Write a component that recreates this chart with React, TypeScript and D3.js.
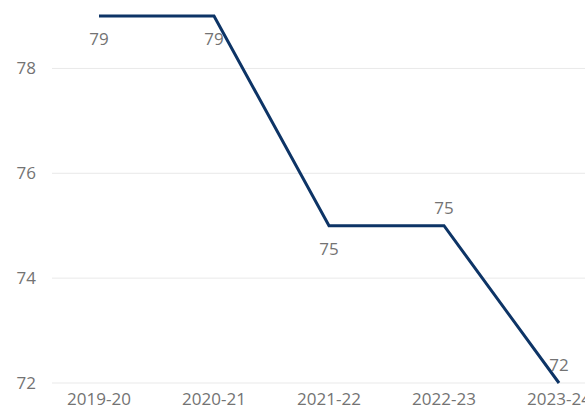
import React from "react";
import * as d3 from "d3";

const years = ["2019-20", "2020-21", "2021-22", "2022-23", "2023-24"];
const values = [79, 79, 75, 75, 72];
const yTicks = [72, 74, 76, 78];
const labelSide = ["below", "below", "below", "above", "above"];

const W = 585;
const H = 409;
const FONT = "'Open Sans', 'Noto Sans', sans-serif";
const TEXT = "#737373";
const FS = 17;

export default function App() {
  const x = d3.scalePoint<string>().domain(years).range([99, 559]);
  const y = d3.scaleLinear().domain([72, 79]).range([383, 16]);
  const line = d3
    .line<number>()
    .x((_, i) => x(years[i]) as number)
    .y((d) => y(d));

  return (
    <div style={{ position: "absolute", left: 0, top: 0 }}>
      <svg width={W} height={H} style={{ display: "block", background: "#fff" }}>
        {yTicks.map((t) => (
          <g key={t}>
            <line x1={52} x2={W} y1={y(t)} y2={y(t)} stroke="#e9e9e9" strokeWidth={1} />
            <text
              x={36}
              y={y(t)}
              dy="0.35em"
              textAnchor="end"
              fontFamily={FONT}
              fontSize={FS}
              fill={TEXT}
            >
              {t}
            </text>
          </g>
        ))}
        {years.map((yr) => (
          <text
            key={yr}
            x={x(yr) as number}
            y={405}
            textAnchor="middle"
            fontFamily={FONT}
            fontSize={FS}
            fill={TEXT}
          >
            {yr}
          </text>
        ))}
        <path
          d={line(values) || ""}
          fill="none"
          stroke="#0d3466"
          strokeWidth={3}
          strokeLinejoin="miter"
        />
        {values.map((v, i) => (
          <text
            key={i}
            x={x(years[i]) as number}
            y={labelSide[i] === "above" ? y(v) - 12 : y(v) + 29}
            textAnchor="middle"
            fontFamily={FONT}
            fontSize={FS}
            fill={TEXT}
          >
            {v}
          </text>
        ))}
      </svg>
    </div>
  );
}
